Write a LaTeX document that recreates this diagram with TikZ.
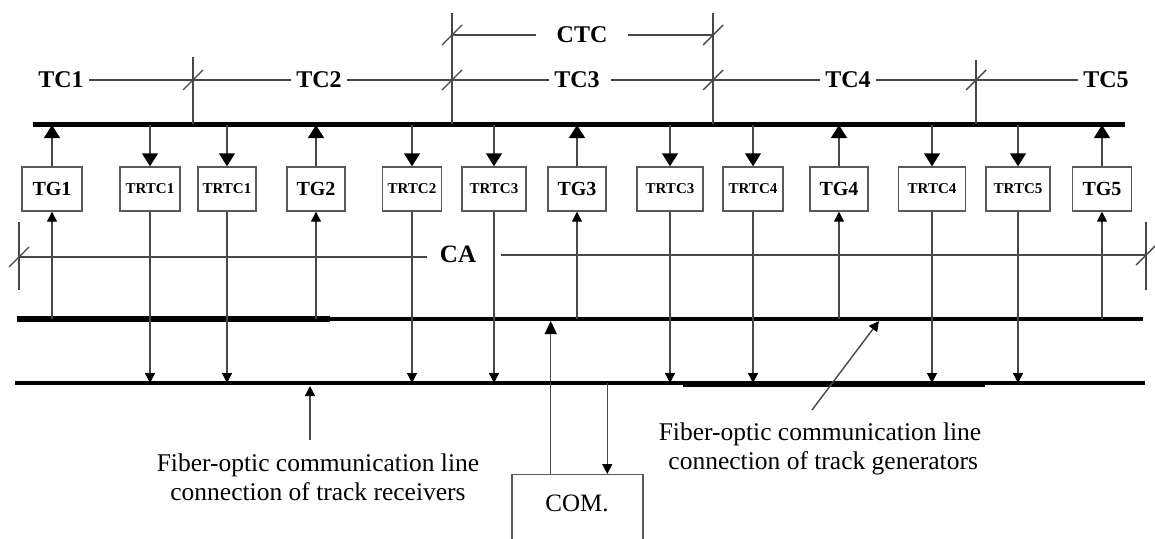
\documentclass[tikz,border=0pt]{standalone}
\usepackage{fontspec}
\setmainfont{Liberation Serif}
\usetikzlibrary{arrows.meta,calc}
\begin{document}
\begin{tikzpicture}[x=1pt,y=-1pt,
 thinline/.style={draw=black!72, line width=1.4pt},
 bigtip/.style={-{Triangle[width=16pt,length=13pt,color=black]}},
 smalltip/.style={-{Triangle[width=10pt,length=10pt,color=black]}},
 midtip/.style={-{Triangle[width=12pt,length=13pt,color=black]}},
 unitbox/.style={draw=black!65, line width=1.4pt, minimum height=44pt, inner sep=0pt, font=\bfseries\fontsize{15}{15}\selectfont},
 tgbox/.style={unitbox, font=\bfseries\fontsize{20}{20}\selectfont},
 tclabel/.style={font=\bfseries\fontsize{24}{24}\selectfont, inner xsep=5pt, inner ysep=0pt},
 note/.style={font=\fontsize{25.5}{29}\selectfont, align=center, inner sep=0pt}
]
\useasboundingbox[fill=white] (0,0) rectangle (1155,538);

% bus reference coordinates
\coordinate (topbus) at (0,125);
\coordinate (midbus) at (0,319);
\coordinate (midbusb) at (0,321);
\coordinate (botbus) at (0,383);
\coordinate (botbusb) at (0,386);

% buses
\draw[line width=5pt] (33,124) -- (1125,124);
\draw[line width=5.5pt] (17,319) -- (330,319);
\draw[line width=4pt] (17,319) -- (1143,319);
\draw[line width=4pt] (15,383) -- (1145,383);
\draw[line width=5.5pt] (683,384) -- (985,384);

% section labels
\node[tclabel] (tc1) at (61,80) {TC1};
\node[tclabel] (tc2) at (319,80) {TC2};
\node[tclabel] (tc3) at (577,80) {TC3};
\node[tclabel] (tc4) at (848,80) {TC4};
\node[tclabel] (tc5) at (1106,80) {TC5};
\node[tclabel, inner xsep=20pt] (ctc) at (582,35) {CTC};
\draw[thinline] (tc1.east) -- (tc2.west);
\draw[thinline] (tc2.east) -- (tc3.west);
\draw[thinline] ([xshift=6pt]tc3.east) -- (tc4.west);
\draw[thinline] (tc4.east) -- (tc5.west);
\coordinate (ctcL) at (452,35);
\coordinate (ctcR) at (713,35);
\draw[thinline] (ctcL) -- (ctc.west);
\draw[thinline] (ctc.east) -- (ctcR);

% boundary ticks
\draw[thinline] (193,57) -- (193,124);
\draw[thinline] (183,90) -- (203,70);
\draw[thinline] (452,13) -- (452,124);
\draw[thinline] (442,45) -- (462,25);
\draw[thinline] (442,90) -- (462,70);
\draw[thinline] (713,13) -- (713,124);
\draw[thinline] (703,45) -- (723,25);
\draw[thinline] (703,90) -- (723,70);
\draw[thinline] (976,60) -- (976,124);
\draw[thinline] (966,90) -- (986,70);

% CA
\node[font=\bfseries\fontsize{25}{25}\selectfont, inner sep=0pt] (ca) at (458,254) {CA};
\coordinate (caL) at (19,257);
\coordinate (caR) at (1146,255);
\draw[thinline] (caL) -- ([xshift=-13pt]ca.west |- caL);
\draw[thinline] ([xshift=25pt]ca.east |- caR) -- (caR);
\draw[thinline] (19,222) -- (19,290);
\draw[thinline] (9,267) -- (29,247);
\draw[thinline] (1146,222) -- (1146,290);
\draw[thinline] (1136,265) -- (1156,245);

% boxes
\node[tgbox, minimum width=60pt] (tg1) at (52,189) {TG1};
\node[unitbox, minimum width=60pt] (r1a) at (150,189) {TRTC1};
\node[unitbox, minimum width=58pt] (r1b) at (227,189) {TRTC1};
\node[tgbox, minimum width=58pt] (tg2) at (316,189) {TG2};
\node[unitbox, minimum width=59pt] (r2) at (412,189) {TRTC2};
\node[unitbox, minimum width=64pt] (r3a) at (494,189) {TRTC3};
\node[tgbox, minimum width=58pt] (tg3) at (577,189) {TG3};
\node[unitbox, minimum width=66pt] (r3b) at (670,189) {TRTC3};
\node[unitbox, minimum width=60pt] (r4a) at (753,189) {TRTC4};
\node[tgbox, minimum width=58pt] (tg4) at (839,189) {TG4};
\node[unitbox, minimum width=67pt] (r4b) at (932,189) {TRTC4};
\node[unitbox, minimum width=64pt] (r5) at (1018,189) {TRTC5};
\node[tgbox, minimum width=59pt] (tg5) at (1102,189) {TG5};

% generators: up to top bus, fed from middle bus
\foreach \g in {tg1,tg2,tg3,tg4,tg5}{
  \draw[thinline,bigtip] (\g.north) -- (\g.north |- topbus);
  \draw[thinline,smalltip] (\g.south |- midbus) -- (\g.south);
}
% receivers: fed from top bus, down to bottom bus
\foreach \r in {r1a,r1b,r2,r3a,r3b,r4a,r4b,r5}{
  \draw[thinline,bigtip] (\r.north |- topbus) -- (\r.north);
  \draw[thinline,smalltip] (\r.south) -- (\r.south |- botbus);
}

% COM
\node[draw=black!65, line width=1.4pt, minimum width=131pt, minimum height=100pt, anchor=north] (com) at (577.5,474) {};
\node[font=\fontsize{25}{25}\selectfont, inner sep=0pt] (comtext) at (577,503) {COM.};
\coordinate (comA) at ($(com.north west)!0.298!(com.north east)$);
\coordinate (comB) at ($(com.north west)!0.725!(com.north east)$);
\draw[thinline,midtip] (comA) -- (comA |- midbusb);
\draw[thinline,smalltip] (comB |- botbus) -- (comB);

% notes
\node[note] (recv) at (318,477) {Fiber-optic communication line\\connection of track receivers};
\coordinate (recvfoot) at (310,440);
\draw[thinline,smalltip] (recvfoot) -- (recvfoot |- botbusb);
\node[note] (gen) at (820,449) {Fiber-optic communication line\\\ connection of track generators};
\coordinate (genfoot) at (812,410);
\coordinate (genhead) at (879,321);
\draw[thinline,smalltip] (genfoot) -- (genhead);
\end{tikzpicture}
\end{document}
